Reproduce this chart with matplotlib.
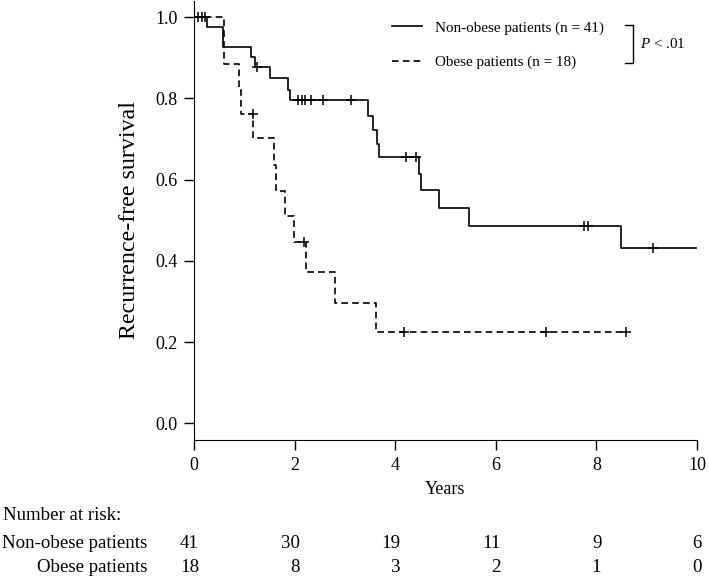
import matplotlib
matplotlib.use("Agg")
import matplotlib.pyplot as plt
import numpy as np

plt.rcParams['font.family'] = ['Liberation Serif', 'DejaVu Serif']
plt.rcParams['mathtext.fontset'] = 'custom'
plt.rcParams['mathtext.rm'] = 'Liberation Serif'
plt.rcParams['mathtext.it'] = 'Liberation Serif:italic'

# step curves (time in years, survival after the step)
nonobese_t = [0, 0.25, 0.58, 1.13, 1.21, 1.52, 1.86, 1.90, 3.45, 3.55, 3.63, 3.67,
              4.47, 4.51, 4.87, 5.46, 8.48, 9.99]
nonobese_s = [1.0, 0.976, 0.927, 0.902, 0.878, 0.850, 0.822, 0.795, 0.758, 0.723, 0.689, 0.656,
              0.615, 0.574, 0.530, 0.485, 0.431, 0.431]
nonobese_cens = [0.08, 0.15, 0.22, 1.25, 2.07, 2.15, 2.21, 2.33, 2.57, 3.13,
                 4.21, 4.42, 7.75, 7.84, 9.13]

obese_t = [0, 0.59, 0.89, 0.94, 1.18, 1.60, 1.64, 1.80, 1.99, 2.23, 2.81, 3.62, 8.59]
obese_s = [1.0, 0.886, 0.822, 0.762, 0.703, 0.635, 0.572, 0.510, 0.447, 0.372, 0.297, 0.224, 0.224]
obese_cens = [1.17, 2.18, 4.18, 6.99, 8.59]

risk_times = [0, 2, 4, 6, 8, 10]
risk_nonobese = [41, 30, 19, 11, 9, 6]
risk_obese = [18, 8, 3, 2, 1, 0]

labels = ["Non-obese patients (n = 41)", "Obese patients (n = 18)"]


def level_at(times, surv, t):
    idx = np.searchsorted(times, t, side='right') - 1
    return np.array(surv)[idx]


fig = plt.figure(figsize=(7.09, 5.77), dpi=100)
ax = fig.add_axes([194 / 709, 1 - 440 / 577, 503 / 709, 440 / 577 - 0.001])

ax.plot(nonobese_t, nonobese_s, drawstyle='steps-post', color='black', lw=1.2,
        label=labels[0])
ax.plot(obese_t, obese_s, drawstyle='steps-post', color='black', lw=1.2,
        linestyle=(0, (4, 2.5)), label=labels[1])

ax.plot(nonobese_cens, level_at(nonobese_t, nonobese_s, nonobese_cens), '+',
        color='black', ms=7, mew=1.1)
ax.plot(obese_cens, level_at(obese_t, obese_s, obese_cens), '+',
        color='black', ms=7, mew=1.1)

ax.set_xlim(0, 10)
ax.set_ylim(-0.041, 1.041)
ax.set_xticks([0, 2, 4, 6, 8, 10])
ax.set_yticks([0.0, 0.2, 0.4, 0.6, 0.8, 1.0])
ax.set_yticklabels(["0.0", "0.2", "0.4", "0.6", "0.8", "1.0"])
ax.spines['top'].set_visible(False)
ax.spines['right'].set_visible(False)
ax.tick_params(direction='out', length=7, width=1, labelsize=13, pad=5)
ax.set_xlabel("Years", fontsize=13)
ax.xaxis.set_label_coords(251 / 503, -41 / 440)
ax.set_ylabel("Recurrence-free survival", fontsize=17.3)
ax.yaxis.set_label_coords(-54 / 503, 0.5)

leg = ax.legend(loc='upper left', bbox_to_anchor=(392 / 709, 1 - 21 / 577),
                bbox_transform=fig.transFigure, frameon=False, fontsize=10.9,
                handlelength=2.0, handletextpad=0.85, labelspacing=1.35,
                borderpad=0, borderaxespad=0)

# bracket with p-value
bx = [625, 633, 633, 625]
by = [25, 25, 63, 63]
fig.add_artist(plt.Line2D([x / 709 for x in bx], [1 - y / 577 for y in by],
                          color='black', lw=1.0, transform=fig.transFigure))
fig.text(640 / 709, 1 - 44 / 577, "$P$ < .01", fontsize=10.9, va='center', ha='left')

# number at risk table
fs = 13.6
fig.text(3 / 709, 1 - 515 / 577, "Number at risk:", fontsize=fs, va='center', ha='left')
fig.text(147 / 709, 1 - 543 / 577, "Non-obese patients", fontsize=fs, va='center', ha='right')
fig.text(147 / 709, 1 - 568 / 577, "Obese patients", fontsize=fs, va='center', ha='right')
for t, n1, n2 in zip(risk_times, risk_nonobese, risk_obese):
    xf = (194 + t * 50.3 + 5) / 709
    fig.text(xf, 1 - 543 / 577, str(n1), fontsize=fs, va='center', ha='right')
    fig.text(xf, 1 - 568 / 577, str(n2), fontsize=fs, va='center', ha='right')

fig.savefig("out.png", dpi=100)
